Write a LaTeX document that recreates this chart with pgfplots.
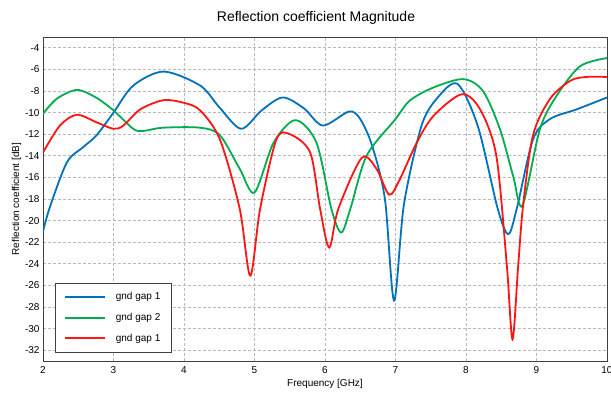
\documentclass[border=0pt]{standalone}
\usepackage{pgfplots}
\pgfplotsset{compat=1.18}
\usepackage{fontspec}
\setmainfont{Liberation Sans}
\definecolor{cblue}{RGB}{0,114,189}
\definecolor{cgreen}{RGB}{0,172,80}
\definecolor{cred}{RGB}{255,20,20}
\begin{document}
\begin{tikzpicture}[x=1pt,y=1pt]
\useasboundingbox (0,0) rectangle (611,403);
\begin{axis}[
  at={(43pt,42pt)}, anchor=south west,
  scale only axis, width=564pt, height=324pt,
  xmin=2, xmax=10, ymin=-33, ymax=-3,
  xtick={2,3,...,10}, ytick={-32,-30,...,-4},
  major tick length=0pt,
  grid=major,
  major grid style={dash pattern=on 3pt off 2pt, gray!55, line width=0.6pt},
  axis line style={black!75, line width=0.8pt},
  /pgf/number format/assume math mode=true,
  tick label style={font=\fontsize{10}{11}\selectfont},
  xticklabel style={yshift=-2pt},
  title={Reflection coefficient Magnitude},
  title style={font=\fontsize{14}{16}\selectfont, yshift=3pt, xshift=-9pt},
  xlabel={Frequency [GHz]},
  ylabel={Reflection coefficient [dB]},
  label style={font=\fontsize{10}{12}\selectfont},
  xlabel style={yshift=1pt},
  ylabel style={yshift=-3pt},
  legend style={at={(0.021,0.028)}, anchor=south west, draw=black!75,
    font=\fontsize{10}{11}\selectfont, row sep=8pt, inner xsep=9pt, inner ysep=7pt,
    cells={anchor=west}},
  legend image code/.code={\draw[#1, line width=1.8pt] (0pt,0pt) -- (40pt,0pt); \path (48pt,0pt);},
]
\addplot[cblue, line width=1.8pt, smooth, tension=0.5] coordinates {
(2,-21) (2.1,-18.7) (2.34,-14.6) (2.57,-13.2) (2.76,-12.1) (3.0,-10.0) (3.28,-7.5)
(3.71,-6.2) (4.23,-7.5) (4.5,-9.5) (4.81,-11.5) (5.1,-9.8) (5.40,-8.6) (5.7,-9.6)
(5.97,-11.2) (6.34,-9.9) (6.5,-10.6) (6.67,-13.1) (6.85,-18.0) (6.98,-27.4)
(7.12,-18.5) (7.37,-11.2) (7.6,-8.6) (7.88,-7.35) (8.17,-11.3)
(8.45,-18.9) (8.6,-21.25) (8.72,-18.9) (8.95,-12.5) (9.19,-10.6) (9.57,-9.7) (10,-8.6)
};
\addlegendentry{gnd gap 1}
\addplot[cgreen, line width=1.8pt, smooth, tension=0.5] coordinates {
(2,-10.1) (2.2,-8.7) (2.48,-7.9) (2.75,-8.6) (3.0,-9.8) (3.28,-11.5) (3.42,-11.7)
(3.7,-11.4) (4.23,-11.4) (4.51,-12.1) (4.79,-15.2) (5.0,-17.4) (5.27,-12.8)
(5.58,-10.7) (5.88,-12.8) (6.09,-18.9) (6.23,-21.1) (6.36,-18.9) (6.59,-14.0)
(7.0,-10.6) (7.2,-8.9) (7.53,-7.7) (7.96,-6.9) (8.24,-8.0) (8.48,-11.5) (8.67,-15.9)
(8.8,-18.6) (9.05,-11.5) (9.29,-8.4) (9.62,-5.7) (10,-4.95)
};
\addlegendentry{gnd gap 2}
\addplot[cred, line width=1.8pt, smooth, tension=0.5] coordinates {
(2,-13.7) (2.24,-11.2) (2.48,-10.2) (2.76,-10.9) (3.0,-11.5) (3.14,-11.2) (3.38,-9.7)
(3.71,-8.85) (4.0,-9.1) (4.23,-9.8) (4.51,-12.5) (4.79,-18.9) (4.94,-25.1) (5.08,-18.9)
(5.31,-12.5) (5.5,-12.0) (5.79,-13.7) (5.93,-18.9) (6.06,-22.5) (6.19,-18.9)
(6.52,-14.2) (6.73,-15.2) (6.91,-17.6) (7.06,-16.2) (7.3,-12.8) (7.54,-10.3)
(7.94,-8.3) (8.2,-9.7) (8.43,-14.0) (8.58,-24.2) (8.66,-31.0) (8.74,-24.2)
(8.81,-18.6) (8.95,-12.1) (9.19,-8.75) (9.48,-7.05) (9.71,-6.7) (10,-6.7)
};
\addlegendentry{gnd gap 1}
\end{axis}
\end{tikzpicture}
\end{document}
